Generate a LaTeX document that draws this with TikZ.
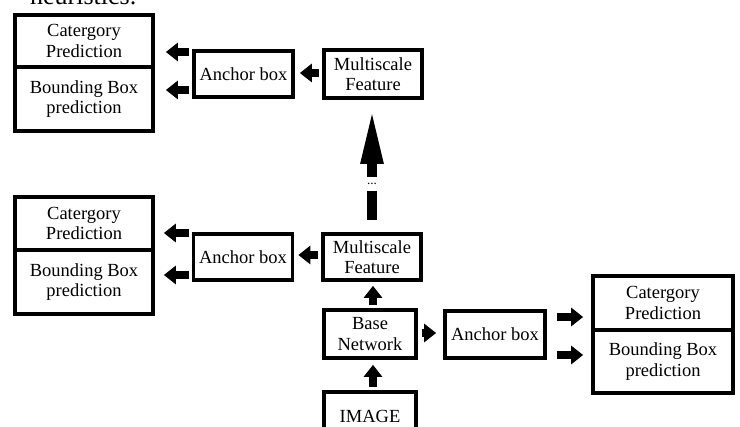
\documentclass[tikz,border=0pt]{standalone}
\usepackage{fontspec}
\setmainfont{Liberation Serif}
\usetikzlibrary{arrows.meta}
\begin{document}
\begin{tikzpicture}[x=1pt,y=-1pt,
  box/.style={draw, line width=3.7pt, inner sep=0pt, align=center,
    font=\fontsize{18.5}{20.5}\selectfont},
  sarr/.style={line width=8.5pt, -{Triangle[length=12pt,width=18pt]}},
  bshaft/.style={line width=10.5pt},
  barr/.style={line width=10.5pt, -{Triangle[length=58pt,width=20pt]}}]
\clip (0,0) rectangle (740,427);
\fill[white] (0,0) rectangle (740,427);
% cut-off caption text at the top
\node[anchor=base west, inner sep=0pt, font=\fontsize{26}{28}\selectfont] (cap) at (30,5) {heuristics.};
% top row
\node[box, minimum width=138pt, minimum height=52pt] (tcat) at (84,41) {Catergory\\Prediction};
\node[box, minimum width=138pt, minimum height=64pt] (tbb) at (84,99) {Bounding Box\\prediction};
\node[box, minimum width=99pt, minimum height=46pt] (tanc) at (243.5,74) {Anchor box};
\node[box, minimum width=98pt, minimum height=48pt] (tms) at (373,74) {Multiscale\\Feature};
% middle row
\node[box, minimum width=138pt, minimum height=53pt] (mcat) at (84,223.5) {Catergory\\Prediction};
\node[box, minimum width=138pt, minimum height=64pt] (mbb) at (84,282) {Bounding Box\\prediction};
\node[box, minimum width=99pt, minimum height=46pt] (manc) at (243,257) {Anchor box};
\node[box, minimum width=98pt, minimum height=46pt] (mms) at (372,257) {Multiscale\\Feature};
% bottom part
\node[box, minimum width=92pt, minimum height=48pt] (base) at (370,334) {Base\\Network};
\node[box, minimum width=92pt, minimum height=50pt, anchor=north] (img) at (370,390) {IMAGE};
\node[box, minimum width=100pt, minimum height=47pt] (banc) at (495,334.5) {Anchor box};
\node[box, minimum width=140pt, minimum height=54pt] (rcat) at (663,303) {Catergory\\Prediction};
\node[box, minimum width=140pt, minimum height=63pt] (rbb) at (663,361.5) {Bounding Box\\prediction};
% small arrows, top row
\draw[sarr, shorten <=3pt, shorten >=11pt] (tanc.west |- 0,52) -- (tcat.east |- 0,52);
\draw[sarr, shorten <=3pt, shorten >=11pt] (tanc.west |- 0,90) -- (tbb.east |- 0,90);
\draw[sarr, shorten <=3pt, shorten >=5pt] (tms.west |- 0,73) -- (tanc.east |- 0,73);
% small arrows, middle row
\draw[sarr, shorten <=3pt, shorten >=9pt] (manc.west |- 0,233) -- (mcat.east |- 0,233);
\draw[sarr, shorten <=3pt, shorten >=9pt] (manc.west |- 0,275) -- (mbb.east |- 0,275);
\draw[sarr, shorten <=3pt, shorten >=4pt] (mms.west |- 0,255) -- (manc.east |- 0,255);
% vertical small arrows
\draw[sarr, shorten <=3pt, shorten >=4pt] (base.north -| 373,0) -- (mms.south -| 373,0);
\draw[sarr, shorten <=3pt, shorten >=5pt] (img.north -| 373,0) -- (base.south -| 373,0);
% bottom horizontal arrows
\draw[sarr, shorten <=4pt, shorten >=7pt] (base.east |- 0,333) -- (banc.west |- 0,333);
\draw[sarr, shorten <=10pt, shorten >=8pt] (banc.east |- 0,317) -- (rcat.west |- 0,317);
\draw[sarr, shorten <=10pt, shorten >=8pt] (banc.east |- 0,355) -- (rbb.west |- 0,355);
% big arrow with gap and dots
\coordinate (gapbot) at (372,191);
\coordinate (gaptop) at (372,177);
\draw[bshaft, shorten <=12pt] (mms.north -| gapbot) -- (gapbot);
\draw[barr, shorten >=6pt] (gaptop) -- (tms.south -| gaptop);
\node[inner sep=0pt, font=\fontsize{13}{13}\selectfont] (dots) at (372,184) {...};
\end{tikzpicture}
\end{document}
